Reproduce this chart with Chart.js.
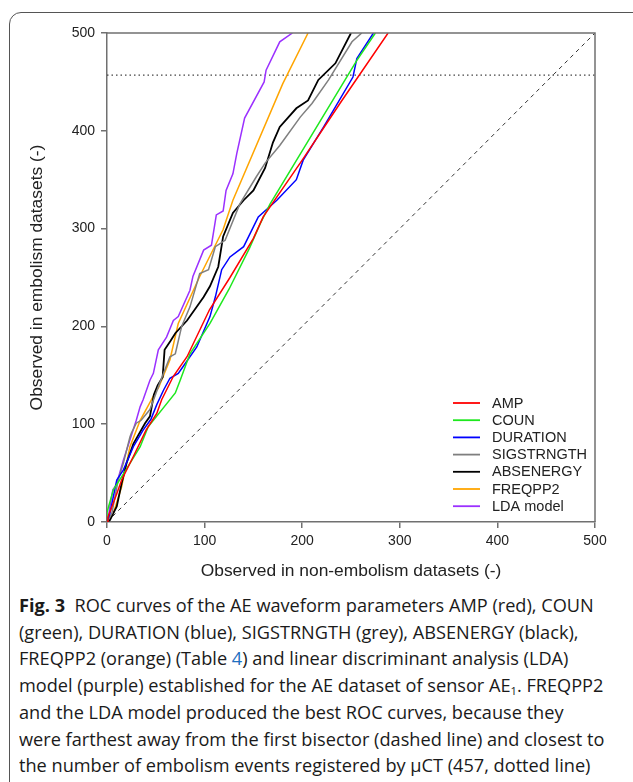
<!DOCTYPE html>
<html>
<head>
<meta charset="utf-8">
<script src="https://cdn.jsdelivr.net/npm/chart.js@4.4.0/dist/chart.umd.min.js"></script>
<style>
  body { margin: 0; background: #fff; width: 633px; height: 782px; overflow: hidden; position: relative; }
  #frame { position: absolute; left: 9px; top: 12px; width: 640px; height: 790px; border: 1px solid #555; border-radius: 12px; box-sizing: border-box; }
  #chart { position: absolute; left: 0; top: 0; }
  #caption { position: absolute; left: 19px; top: 592px; font-family: "Open Sans", sans-serif; font-size: 18px; line-height: 26.7px; color: #1a1a1a; transform-origin: 0 0; white-space: nowrap; }
  #caption b { font-weight: 700; }
  #caption .lnk { color: #1f6fbf; }
  #caption sub { font-size: 11px; line-height: 0; vertical-align: -3px; }
</style>
</head>
<body>
<div id="frame"></div>
<canvas id="chart" width="633" height="590"></canvas>
<div id="caption">
  <div><b>Fig. 3</b>&nbsp; ROC curves of the AE waveform parameters AMP (red), COUN</div>
  <div>(green), DURATION (blue), SIGSTRNGTH (grey), ABSENERGY (black),</div>
  <div>FREQPP2 (orange) (Table <span class="lnk">4</span>) and linear discriminant analysis (LDA)</div>
  <div>model (purple) established for the AE dataset of sensor AE<sub>1</sub>. FREQPP2</div>
  <div>and the LDA model produced the best ROC curves, because they</div>
  <div>were farthest away from the first bisector (dashed line) and closest to</div>
  <div>the number of embolism events registered by µCT (457, dotted line)</div>
</div>
<script>
// series names and colours
const seriesNames = ['AMP', 'COUN', 'DURATION', 'SIGSTRNGTH', 'ABSENERGY', 'FREQPP2', 'LDA model'];
const seriesColors = ['#ff0000', '#1ee81e', '#0000ff', '#7f7f7f', '#000000', '#ffa500', '#9b30ff'];

// observed in non-embolism datasets (x) / embolism datasets (y)
const ampX = [0, 1, 10, 15, 27, 40, 51, 56, 68, 82, 105, 126, 150, 160, 200, 240, 288];
const ampY = [0, 5, 29, 43, 67, 94, 111, 125, 149, 169, 217, 250, 290, 312, 370, 430, 500];

const counX = [0, 0, 6.5, 13, 23.5, 34, 42, 70, 75, 85, 105.5, 125, 146, 157, 167, 256, 275];
const counY = [0, 10, 33, 43, 60, 77, 97, 132, 145, 172, 203, 238, 280, 305, 325, 472, 500];

const durX = [0, 3, 10, 16.7, 27, 37, 45, 51, 58, 64.5, 73, 78, 92, 105.5, 111, 117.5, 126, 140, 155, 174, 194, 201, 222, 252, 256, 273];
const durY = [0, 9, 43, 53, 77, 94, 105, 120, 135, 147, 152, 159, 179, 210, 230, 258, 271, 281.5, 312, 329, 350, 370, 404, 455, 474, 500];

const sigX = [0, 5, 11.5, 16.7, 23.5, 25, 30, 35, 44, 54, 64.5, 70, 76.5, 85, 95, 104, 111, 121, 136, 153, 162, 177, 198, 210, 227, 251, 261];
const sigY = [0, 9, 43, 60, 87, 91, 101, 104, 115, 142, 169, 172, 200, 220, 254, 258, 281.5, 288, 325, 353, 367, 385, 414, 428, 452, 491, 500];

const absX = [0, 3, 10, 15, 20, 27, 39, 44, 48, 52, 57, 59, 65, 70, 82, 99, 105.5, 114, 119, 129, 140, 150, 162, 170, 177, 194, 206, 216.5, 234, 250];
const absY = [0, 2, 16, 39.5, 60, 80, 101, 108, 130, 140, 148, 176, 185, 193, 206, 230, 241, 261, 292, 316, 329, 339, 362, 388, 404, 423, 431, 452, 469, 500];

const freqX = [0, 6.5, 15, 23.5, 34, 51, 52.6, 64.5, 73, 95, 119, 129, 180, 206];
const freqY = [0, 9, 36, 77, 104, 135, 137, 166, 203, 251, 299, 329, 448, 500];

const ldaX = [0, 1, 3, 6, 9.5, 16.7, 30, 34, 37, 44, 47.5, 52.6, 61, 68, 73, 85, 88, 99, 107, 112, 119, 122, 129, 133, 141, 161, 163, 177, 190];
const ldaY = [0, 2, 16, 33, 38, 63, 104, 118, 125, 145, 152, 176, 189, 206, 210, 237, 251, 278, 283, 314, 318, 339, 356, 377, 413, 450, 462, 491, 500];

const seriesX = [ampX, counX, durX, sigX, absX, freqX, ldaX];
const seriesY = [ampY, counY, durY, sigY, absY, freqY, ldaY];

// reference lines
const bisectorX = [0, 500];
const bisectorY = [0, 500];
const muCT = 457;

const tickValues = [0, 100, 200, 300, 400, 500];

const toPoints = (xs, ys) => xs.map((x, i) => ({ x: x, y: ys[i] }));

const datasets = seriesNames.map((name, i) => ({
    label: name,
    data: toPoints(seriesX[i], seriesY[i]),
    borderColor: seriesColors[i],
    borderWidth: i === 4 ? 1.8 : 1.5,
    pointRadius: 0,
    tension: 0,
    fill: false
}));
datasets.push({
    label: 'bisector',
    data: toPoints(bisectorX, bisectorY),
    borderColor: '#333',
    borderWidth: 1,
    borderDash: [4, 4],
    pointRadius: 0
});
datasets.push({
    label: 'muCT',
    data: toPoints([0, 500], [muCT, muCT]),
    borderColor: '#444',
    borderWidth: 1.3,
    borderDash: [1.5, 3],
    pointRadius: 0
});

const axisColor = '#707070';
const fontFam = '"Liberation Sans", Arial, sans-serif';

// top/right frame lines + legend inside the plot
const boxAndLegend = {
    id: 'boxAndLegend',
    afterDraw(chart) {
        const { ctx, chartArea } = chart;
        ctx.save();
        ctx.strokeStyle = axisColor;
        ctx.lineWidth = 1.5;
        ctx.beginPath();
        ctx.moveTo(chartArea.left, chartArea.top);
        ctx.lineTo(chartArea.right, chartArea.top);
        ctx.lineTo(chartArea.right, chartArea.bottom);
        ctx.stroke();

        const lx = chartArea.right - 142;
        let ly = chartArea.bottom - 119;
        ctx.font = '14.5px ' + fontFam;
        ctx.textBaseline = 'middle';
        seriesNames.forEach((name, i) => {
            ctx.strokeStyle = seriesColors[i];
            ctx.lineWidth = 1.8;
            ctx.beginPath();
            ctx.moveTo(lx, ly);
            ctx.lineTo(lx + 27, ly);
            ctx.stroke();
            ctx.fillStyle = '#222';
            ctx.fillText(name, lx + 39, ly + 0.5);
            ly += 17.2;
        });
        ctx.restore();
    }
};

const ctx = document.getElementById('chart').getContext('2d');
new Chart(ctx, {
    type: 'line',
    data: { datasets: datasets },
    options: {
        responsive: false,
        animation: false,
        devicePixelRatio: 1,
        layout: { padding: { left: 0, top: 33, right: 38, bottom: 0 } },
        plugins: { legend: { display: false }, tooltip: { enabled: false } },
        scales: {
            x: {
                type: 'linear',
                min: 0, max: 500,
                afterFit: s => { s.height = 68; },
                afterBuildTicks: s => { s.ticks = tickValues.map(v => ({ value: v })); },
                grid: { drawOnChartArea: false, color: axisColor, tickLength: 6, lineWidth: 1.5 },
                border: { color: axisColor, width: 1.5 },
                ticks: { color: '#222', font: { size: 14, family: fontFam }, padding: 5, maxRotation: 0 },
                title: { display: true, text: 'Observed in non-embolism datasets (-)', color: '#222', font: { size: 17.4, family: fontFam }, padding: { top: 0, bottom: 8 } }
            },
            y: {
                type: 'linear',
                min: 0, max: 500,
                afterFit: s => { s.width = 107; },
                afterBuildTicks: s => { s.ticks = tickValues.map(v => ({ value: v })); },
                grid: { drawOnChartArea: false, color: axisColor, tickLength: 6, lineWidth: 1.5 },
                border: { color: axisColor, width: 1.5 },
                ticks: { color: '#222', font: { size: 14, family: fontFam }, padding: 6 },
                title: { display: true, text: 'Observed in embolism datasets (-)', color: '#222', font: { size: 17.4, family: fontFam }, padding: { top: 27, bottom: 0 } }
            }
        }
    },
    plugins: [boxAndLegend]
});

// squeeze caption so its first line spans the same width as in the figure
const cap = document.getElementById('caption');
const firstLine = cap.firstElementChild;
const w = firstLine.scrollWidth;
cap.style.transform = 'scaleX(' + (585 / w) + ')';
</script>
</body>
</html>
